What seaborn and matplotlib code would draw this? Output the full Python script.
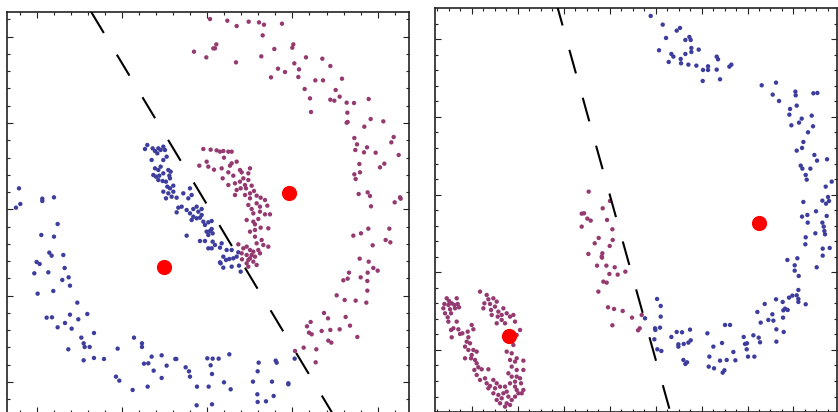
import numpy as np
import pandas as pd
import matplotlib
matplotlib.use("Agg")
import matplotlib.pyplot as plt
from matplotlib.ticker import MultipleLocator
import seaborn as sns

# ---------------- data (coordinates, panel units) ----------------
# Left panel
left_blue_x = [57, 48, 61, 127, 127, 162, 173, 124, 162, 110, 119, 148, 155, 190, 103, 145, 194, 113, 160, 187,
               206, 210, 232, 140, 156, 173, 195, 215, 210, 235, 262, 244, 251, 254, 269, 205, 251, 282, 282, 312,
               353, 348, 358, 398, 402, 426, 426, 443, 432, 445, 455, 461, 485, 485, 500, 526, 529, 557, 567, 570,
               591, 626, 590, 636, 622, 638, 656, 632, 636, 688, 672, 692, 759, 776, 773, 772, 773, 798, 821, 816,
               827, 830, 865, 865, 884,
               442, 435, 458, 465, 475, 482, 490, 495, 472, 455, 490, 500, 465, 475, 482, 505, 512, 460, 468, 478,
               490, 508, 475, 488, 498, 510, 502, 510, 520, 490, 505, 498, 515, 530, 520, 550, 570, 575, 565, 535,
               545, 530, 560, 570, 580, 590, 595, 605, 605, 580, 575, 590, 600, 610, 615, 625, 635, 620, 630, 638,
               625, 635, 560, 600, 615, 638, 645, 625, 635, 660, 665, 680, 695, 670, 678, 688, 700, 710, 715, 660,
               695, 670, 722, 662, 717]
left_blue_y = [565, 623, 612, 596, 603, 592, 672, 705, 710, 786, 792, 758, 767, 765, 820, 817, 804, 881, 873, 840,
               832, 857, 908, 953, 952, 982, 969, 986, 944, 958, 942, 1013, 1030, 1041, 1041, 1048, 1081, 999, 1074, 1077,
               1046, 1130, 1142, 1170, 1013, 1030, 1041, 1160, 1091, 1090, 1070, 1112, 1066, 1134, 1097, 1077, 1077, 1102, 1114, 1130,
               1160, 1160, 1216, 1213, 1075, 1076, 1076, 1096, 1122, 1063, 1147, 1168, 1145, 1088, 1114, 1183, 1206, 1204, 1188, 1145,
               1082, 1088, 1153, 1150, 1076,
               435, 447, 445, 453, 445, 450, 440, 450, 460, 480, 480, 470, 505, 510, 500, 510, 515, 525, 530, 527,
               520, 527, 540, 543, 545, 535, 560, 565, 557, 575, 580, 595, 590, 593, 575, 580, 565, 585, 595, 623,
               620, 637, 630, 640, 627, 620, 635, 627, 645, 650, 660, 655, 653, 665, 675, 667, 663, 695, 693, 700,
               705, 687, 707, 723, 723, 725, 735, 745, 745, 743, 730, 750, 750, 770, 780, 777, 775, 770, 757, 787,
               800, 803, 815, 790, 797]

left_purple_x = [630, 682, 710, 746, 777, 792, 846, 788, 582, 619, 640, 645, 649, 708, 784, 823, 877, 880, 918, 967,
                 991, 834, 855, 883, 897, 813, 895, 946, 969, 1026, 1007, 914, 930, 933, 991, 1003, 1019, 1040, 1062, 1106,
                 1042, 1040, 1043, 1112, 1150, 1093, 1063, 1071, 1066, 1101, 1092, 1127, 1181, 1174, 1196, 1078, 1153, 1140, 1063, 1080,
                 1067, 1076, 1103, 1110, 1113, 1184, 1200, 1202, 1060, 1083, 1105, 1168, 1157, 1171, 1118, 1079, 1106, 1103, 1120, 1133,
                 1047, 1030, 1043, 1082, 1102, 1102, 1099, 1067, 1034, 1010, 972, 984, 1037, 1050, 1019, 991, 965, 1072, 921, 932,
                 927, 935, 985, 994, 949, 911, 947, 885,
                 610, 632, 650, 660, 670, 685, 695, 672, 620, 625, 598, 642, 665, 690, 695, 710, 685, 700, 720, 725,
                 745, 750, 668, 685, 705, 720, 730, 735, 745, 755, 710, 722, 738, 750, 762, 705, 735, 750, 770, 782,
                 795, 770, 745, 755, 780, 802, 760, 780, 795, 810, 740, 760, 775, 765, 750, 765, 782, 805, 765, 785,
                 770, 790, 805, 715, 730, 740, 750, 760, 775, 725, 740, 755, 765, 780, 745, 760, 770, 740, 750, 745,
                 726]
left_purple_y = [57, 62, 78, 65, 67, 74, 71, 106, 155, 172, 145, 145, 133, 187, 169, 147, 143, 133, 172, 176,
                 198, 206, 216, 190, 208, 232, 231, 241, 241, 236, 270, 267, 295, 336, 299, 302, 290, 308, 309, 297,
                 338, 368, 366, 357, 364, 380, 414, 433, 450, 442, 457, 458, 411, 427, 465, 492, 491, 502, 523, 517,
                 537, 582, 577, 588, 619, 607, 592, 596, 707, 700, 686, 686, 720, 727, 736, 776, 785, 818, 804, 812,
                 818, 841, 836, 832, 843, 872, 908, 902, 900, 886, 939, 955, 951, 977, 988, 990, 993, 1011, 979, 966,
                 998, 1003, 1022, 1028, 1048, 1043, 1087, 1053,
                 447, 449, 451, 455, 453, 455, 455, 473, 485, 500, 497, 509, 505, 497, 490, 485, 517, 527, 510, 517,
                 520, 505, 535, 555, 550, 545, 535, 555, 540, 557, 570, 565, 565, 580, 573, 585, 585, 595, 587, 593,
                 600, 610, 615, 627, 620, 617, 640, 635, 643, 643, 660, 665, 657, 673, 695, 690, 683, 685, 710, 720,
                 730, 735, 740, 733, 745, 740, 750, 755, 750, 760, 765, 765, 770, 760, 780, 785, 795, 790, 775, 800,
                 778]

left_centroid_x = [491, 866]
left_centroid_y = [800, 578]
left_boundary_x = [273.8, 1000.4]
left_boundary_y = [36, 1245]

# Right panel
right_blue_x = [692, 728, 738, 770, 780, 796, 808, 812, 717, 746, 754, 760, 782, 783, 796, 805, 814, 814, 836, 829,
                848, 849, 864, 864, 890, 894, 890, 900, 928, 934, 1025, 1058, 1068, 1077, 1126, 1127, 1180, 1192, 1110, 1130,
                1108, 1145, 1137, 1175, 1114, 1179, 1164, 1150, 1146, 1130, 1183, 1191, 1221, 1142, 1147, 1171, 1157, 1160, 1217, 1235,
                1150, 1207, 1224, 1227, 1218, 1146, 1162, 1163, 1188, 1220, 1207, 1211, 1213, 1215, 1186, 1157, 1156, 1208, 1229, 1208,
                1102, 1132, 1124, 1124, 1136, 1190, 1135, 1117, 1130, 1135, 1107, 1157, 1088, 1068, 1103, 1034, 1012, 1057, 1022, 1045,
                1060, 1089, 1069, 1091, 1069, 1016, 1020, 1000, 971, 981, 975, 980, 1003, 984, 946, 940, 920, 915, 930, 906,
                880, 868, 900, 866, 882, 908, 913, 862, 810, 786, 770, 754, 775, 775, 791, 805, 812, 790, 796, 801,
                711, 722, 722, 705, 706, 720, 712, 724, 703, 675, 1090, 1095, 1135]
right_blue_y = [48, 74, 114, 92, 84, 120, 111, 120, 151, 186, 162, 170, 177, 190, 162, 194, 144, 156, 149, 197,
                243, 210, 199, 210, 170, 178, 209, 238, 200, 194, 256, 284, 248, 303, 275, 286, 280, 279, 327, 317,
                344, 356, 368, 347, 376, 379, 397, 426, 444, 452, 465, 482, 478, 497, 506, 506, 525, 539, 560, 545,
                606, 602, 591, 603, 611, 650, 645, 668, 634, 648, 668, 680, 693, 703, 700, 712, 733, 746, 744, 767,
                780, 775, 796, 812, 828, 802, 870, 887, 886, 897, 893, 913, 906, 898, 930, 912, 936, 943, 968, 960,
                962, 953, 988, 996, 1025, 1013, 1027, 1006, 1011, 1030, 1032, 1048, 1070, 1070, 1081, 1056, 1080, 975, 975, 1029,
                1040, 1070, 1082, 1100, 1105, 1118, 1111, 1000, 989, 997, 996, 1011, 1033, 1040, 1032, 1028, 1021, 1080, 1092, 1087,
                897, 918, 950, 985, 990, 983, 1048, 1053, 1018, 955, 931, 926, 906]

right_purple_x = [506, 485, 492, 502, 512, 485, 548, 561, 570, 577, 536, 524, 578, 569, 547, 545, 546, 505, 531, 559,
                  584, 568, 616, 593, 550, 560, 535, 564, 582, 608, 577, 636, 659, 654, 665,
                  80, 87, 110, 73, 85, 95, 103, 113, 70, 90, 105, 117, 75, 93, 83, 85, 110, 100, 93, 115,
                  127, 120, 143, 95, 145, 155, 160, 140, 150, 135, 145, 160, 155, 170, 135, 153, 165, 170, 175, 163,
                  185, 170, 205, 180, 195, 200, 210, 220, 230, 205, 225, 240, 255, 220, 235, 250, 260, 230, 245, 265,
                  240, 260, 275, 255, 270, 285, 290, 305,
                  180, 200, 205, 220, 193, 210, 230, 190, 213, 225, 235, 250, 215, 233, 245, 260, 270, 280, 230, 245,
                  255, 285, 300, 290, 265, 280, 260, 275, 290, 270, 285, 310, 275, 290, 265, 275, 290, 310, 300, 285,
                  270, 285, 303, 310, 295]
right_purple_y = [575, 641, 640, 656, 662, 680, 625, 660, 603, 688, 714, 730, 720, 738, 760, 770, 773, 762, 797, 797,
                  802, 822, 815, 824, 845, 848, 875, 922, 927, 933, 976, 953, 985, 991, 945,
                  895, 903, 895, 912, 915, 910, 915, 912, 925, 928, 925, 922, 940, 940, 952, 965, 965, 985, 990, 988,
                  1000, 1002, 995, 1012, 1012, 975, 988, 1025, 1030, 1040, 1050, 1050, 1065, 1055, 1075, 1075, 1080, 1090, 1102, 1110,
                  1108, 1125, 1108, 1140, 1135, 1150, 1158, 1140, 1150, 1165, 1165, 1160, 1160, 1180, 1185, 1180, 1175, 1200, 1195, 1190,
                  1210, 1210, 1200, 1220, 1215, 1190, 1170, 1180,
                  875, 885, 898, 895, 910, 912, 905, 925, 930, 920, 935, 925, 945, 950, 945, 940, 950, 945, 970, 960,
                  970, 965, 990, 1005, 1020, 1035, 1055, 1060, 1075, 1080, 1085, 1082, 1100, 1110, 1120, 1130, 1130, 1110, 1135, 1145,
                  1150, 1160, 1150, 1170, 1180]

right_centroid_x = [1017, 266]
right_centroid_y = [670, 1008]
right_boundary_x = [408.0, 752.7]
right_boundary_y = [6, 1243]

BLUE = "#3d3d9e"
PURPLE = "#953a70"
RED = "#ff0000"

# ---------------- figure ----------------
W, H = 838, 412
fig = plt.figure(figsize=(W / 100, H / 100), dpi=100)
sns.set_style("white")


def make_axes(px_left, px_right, px_top, px_bottom):
    return fig.add_axes([px_left / W, 1 - px_bottom / H,
                         (px_right - px_left) / W, (px_bottom - px_top) / H])


def style_axes(ax, xlim, ylim, xmaj, xmin_, xoff, ymaj, ymin_, yoff):
    ax.set_xlim(*xlim)
    ax.set_ylim(*ylim)
    ax.xaxis.set_major_locator(MultipleLocator(xmaj, offset=xoff))
    ax.xaxis.set_minor_locator(MultipleLocator(xmin_, offset=xoff))
    ax.yaxis.set_major_locator(MultipleLocator(ymaj, offset=yoff))
    ax.yaxis.set_minor_locator(MultipleLocator(ymin_, offset=yoff))
    ax.tick_params(which="both", direction="in", top=True, right=True, bottom=True, left=True,
                   labelbottom=False, labelleft=False, labeltop=False, labelright=False,
                   color="#222222", width=0.8)
    ax.tick_params(which="major", length=4)
    ax.tick_params(which="minor", length=2)
    for s in ax.spines.values():
        s.set_visible(True)
        s.set_color("#222222")
        s.set_linewidth(1.2)
    ax.set_xlabel("")
    ax.set_ylabel("")


def draw_panel(ax, bx, by, px, py, cx, cy, lx, ly):
    df = pd.concat([
        pd.DataFrame({"x": bx, "y": by, "cluster": "A"}),
        pd.DataFrame({"x": px, "y": py, "cluster": "B"}),
    ], ignore_index=True)
    sns.scatterplot(data=df, x="x", y="y", hue="cluster", palette={"A": BLUE, "B": PURPLE},
                    s=10, linewidth=0, legend=False, ax=ax, zorder=2)
    lw = 1.5
    ax.plot(lx, ly, color="black", linewidth=lw, linestyle=(0, (17.6 / lw, 18.2 / lw)),
            solid_capstyle="butt", dash_capstyle="butt", zorder=3)
    sns.scatterplot(x=cx, y=cy, color=RED, s=120, linewidth=0, ax=ax, zorder=4, legend=False)


# left panel: pixel extents 7.3..409 x 11.7..413.3
axL = make_axes(7.3, 409.0, 11.7, 413.3)
draw_panel(axL, left_blue_x, left_blue_y, left_purple_x, left_purple_y,
           left_centroid_x, left_centroid_y, left_boundary_x, left_boundary_y)
style_axes(axL, (22, 1227), (1240, 35), 255.75, 51.15, 110, 259, 51.8, 110)

# right panel: pixel extents 434.7..836.7 x 8.3..412.3
axR = make_axes(434.7, 836.7, 8.3, 412.3)
draw_panel(axR, right_blue_x, right_blue_y, right_purple_x, right_purple_y,
           right_centroid_x, right_centroid_y, right_boundary_x, right_boundary_y)
style_axes(axR, (44, 1250), (1237, 25), 137.9, 34.475, 155, 233, 46.6, 118)

fig.savefig("out.png", dpi=100)
